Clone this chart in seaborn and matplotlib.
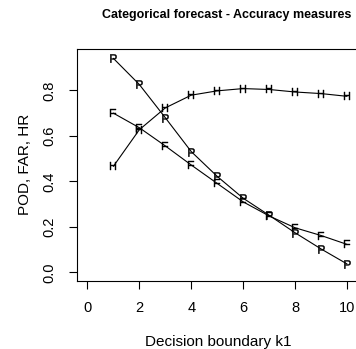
import matplotlib
matplotlib.use("Agg")
import matplotlib.pyplot as plt
import seaborn as sns
import pandas as pd

k1 = [1, 2, 3, 4, 5, 6, 7, 8, 9, 10]
pod = [0.941, 0.826, 0.680, 0.531, 0.422, 0.326, 0.251, 0.174, 0.103, 0.037]
far = [0.700, 0.636, 0.556, 0.472, 0.391, 0.310, 0.248, 0.196, 0.162, 0.123]
hr = [0.466, 0.627, 0.723, 0.779, 0.798, 0.808, 0.804, 0.793, 0.786, 0.774]
series_letters = ["P", "F", "H"]
x_ticks = [0, 2, 4, 6, 8, 10]
y_ticks = [0.0, 0.2, 0.4, 0.6, 0.8]
title = "Categorical forecast - Accuracy measures"
xlabel = "Decision boundary k1"
ylabel = "POD, FAR, HR"

sns.set_theme(style="white")
plt.rcParams["font.family"] = ["Liberation Sans", "DejaVu Sans"]
plt.rcParams["mathtext.fontset"] = "custom"
plt.rcParams["mathtext.rm"] = "Liberation Sans"
plt.rcParams["mathtext.it"] = "Liberation Sans"

fig = plt.figure(figsize=(3.56, 3.49), dpi=100)
ax = fig.add_axes([77 / 356, 1 - 281 / 349, (357.4 - 77) / 356, (281 - 49) / 349])

for vals, letter in zip([pod, far, hr], series_letters):
    df = pd.DataFrame({"k1": k1, "v": vals})
    sns.lineplot(data=df, x="k1", y="v", ax=ax, color="black", linewidth=0.8,
                 marker=f"$\\mathrm{{{letter}}}$", markersize=6, markeredgewidth=0.3,
                 markerfacecolor="black", markeredgecolor="black")

ax.set_xlim(-0.4, 10.4)
ax.set_ylim(-0.038, 0.982)
ax.set_xticks(x_ticks)
ax.set_xticklabels([str(t) for t in x_ticks])
ax.set_yticks(y_ticks)
ax.set_yticklabels([f"{t:.1f}" for t in y_ticks], rotation=90, va="center")
ax.tick_params(axis="both", direction="out", length=5.5, width=0.8, color="black",
               labelsize=10.5, labelcolor="black", bottom=True, left=True)
ax.tick_params(axis="x", pad=9)
ax.tick_params(axis="y", pad=9)
for s in ax.spines.values():
    s.set_color("black")
    s.set_linewidth(0.8)

ax.set_xlabel("")
ax.set_ylabel("")
fig.text(218 / 356, 1 - 342 / 349, xlabel, ha="center", va="center", fontsize=11, color="black")
fig.text(25 / 356, 1 - 164 / 349, ylabel, ha="center", va="center", rotation=90, fontsize=11, color="black")
fig.text(227 / 356, 1 - 15 / 349, title, ha="center", va="center", fontsize=9,
         fontweight="bold", color="black")

fig.savefig("out.png", dpi=100)
